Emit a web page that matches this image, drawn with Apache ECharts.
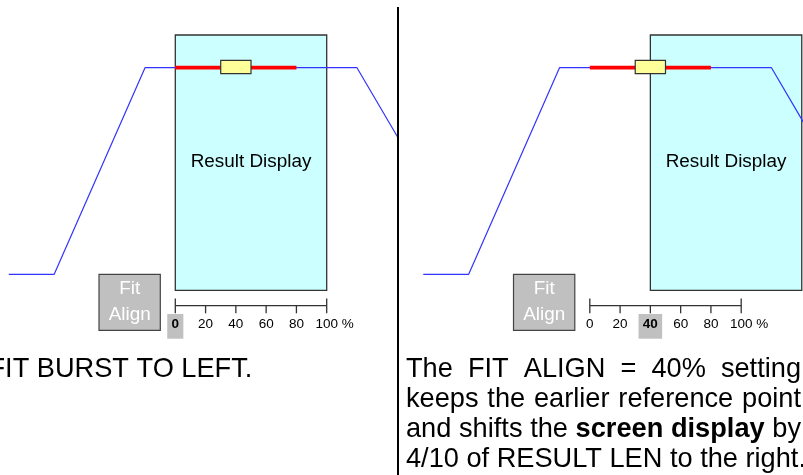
<!DOCTYPE html>
<html>
<head>
<meta charset="utf-8">
<script src="https://cdn.jsdelivr.net/npm/echarts@6/dist/echarts.min.js"></script>
<style>
html,body{margin:0;padding:0;background:#fff;overflow:hidden}
#c{width:803px;height:475px}
</style>
</head>
<body>
<div id="c"></div>
<script>
// ---------------- data ----------------
const fitAlign = [0, 40];                         // FIT ALIGN setting of each panel (%)
const resultLen = 100;                            // RESULT LEN (% of itself)
const burstX = [-110, -80, -20, 120, 200];        // burst envelope, % of RESULT LEN from reference point
const burstY = [0, 0, 1, 1, 0];                   // envelope level (0 = low, 1 = high)
const measuredSpan = [0, 80];                     // red measured section (%)
const refMarker = [30, 50];                       // yellow marker (%)
const scaleTicks = [0, 20, 40, 60, 80, 100];
const scaleTickLabels = ['0', '20', '40', '60', '80', '100'];
const scaleUnit = '%';
const displayLabel = 'Result Display';
const fitAlignLabel = ['Fit', 'Align'];
const leftCaption = 'FIT BURST TO LEFT.';
const rightCaption = [
  [['The', 0], ['FIT', 0], ['ALIGN', 0], ['=', 0], ['40%', 0], ['setting', 0]],
  [['keeps', 0], ['the', 0], ['earlier', 0], ['reference', 0], ['point', 0]],
  [['and', 0], ['shifts', 0], ['the', 0], ['screen', 1], ['display', 1], ['by', 0]],
  [['4/10', 0], ['of', 0], ['RESULT', 0], ['LEN', 0], ['to', 0], ['the', 0], ['right.', 0]]
];

// ---------------- layout ----------------
const FONT = "'Liberation Sans', Arial, Helvetica, sans-serif";
const W = 803, H = 475;
const PX_PER_PCT = 1.514;
const ORIGIN_PX = [175.3, 589.8];
const GRID_LEFT = [0, 414.5];
const GRID_W = [397, W - 414.5];
const Y_LOW = 274.3, Y_HIGH = 67.7;
const LEVEL_PX = Y_LOW - Y_HIGH;
const yMin = -(H - Y_LOW) / LEVEL_PX, yMax = Y_LOW / LEVEL_PX;

const mctx = document.createElement('canvas').getContext('2d');
function tw(t, font) { mctx.font = font; return mctx.measureText(t).width; }

const grid = [], xAxis = [], yAxis = [], series = [];
fitAlign.forEach((fa, i) => {
  const xMin = -(ORIGIN_PX[i] - GRID_LEFT[i]) / PX_PER_PCT;
  const xMax = xMin + GRID_W[i] / PX_PER_PCT;
  grid.push({left: GRID_LEFT[i], top: 0, width: GRID_W[i], height: H});
  xAxis.push({type: 'value', gridIndex: i, min: xMin, max: xMax, show: false});
  yAxis.push({type: 'value', gridIndex: i, min: yMin, max: yMax, show: false});

  // Result display window
  series.push({
    type: 'custom', xAxisIndex: i, yAxisIndex: i, z: 1, silent: true,
    data: [[fa, fa + resultLen]],
    renderItem: (p, api) => {
      const x0 = api.coord([api.value(0), 0])[0];
      const x1 = api.coord([api.value(1), 0])[0];
      return {type: 'group', children: [
        {type: 'rect', shape: {x: x0, y: 35, width: x1 - x0, height: 255.3},
         style: {fill: '#ccffff', stroke: '#333', lineWidth: 1.3}},
        {type: 'text', x: (x0 + x1) / 2, y: 161.8,
         style: {text: displayLabel, font: '18.9px ' + FONT, fill: '#000', align: 'center', verticalAlign: 'middle'}}
      ]};
    }
  });
  // burst envelope
  series.push({
    type: 'line', xAxisIndex: i, yAxisIndex: i, z: 2, silent: true, symbol: 'none',
    data: burstX.map((x, k) => [x, burstY[k]]),
    lineStyle: {color: '#3333ff', width: 1.2}
  });
  // measured section
  series.push({
    type: 'line', xAxisIndex: i, yAxisIndex: i, z: 3, silent: true, symbol: 'none',
    data: measuredSpan.map(x => [x, 1]),
    lineStyle: {color: '#ff0000', width: 3.8}
  });
  // yellow marker
  series.push({
    type: 'custom', xAxisIndex: i, yAxisIndex: i, z: 4, silent: true,
    data: [[refMarker[0], refMarker[1]]],
    renderItem: (p, api) => {
      const a = api.coord([api.value(0), 1]);
      const b = api.coord([api.value(1), 1]);
      return {type: 'rect', shape: {x: a[0], y: a[1] - 7.4, width: b[0] - a[0], height: 13.4},
              style: {fill: '#ffff99', stroke: '#333', lineWidth: 1.2}};
    }
  });
  // percentage scale
  series.push({
    type: 'custom', xAxisIndex: i, yAxisIndex: i, z: 5, silent: true,
    data: scaleTicks.map((t, k) => [t, k]),
    renderItem: (p, api) => {
      const t = api.value(0), k = api.value(1);
      const x = api.coord([t, 0])[0];
      const last = scaleTicks.length - 1;
      const isEnd = (k === 0 || k === last);
      const ch = [];
      if (k === 0) {
        const xe = api.coord([scaleTicks[last], 0])[0];
        ch.push({type: 'line', shape: {x1: x, y1: 305.7, x2: xe, y2: 305.7},
                 style: {stroke: '#333', lineWidth: 1.3}});
      }
      ch.push({type: 'line', shape: {x1: x, y1: isEnd ? 298.4 : 305.7, x2: x, y2: 313.3},
               style: {stroke: '#333', lineWidth: 1.3}});
      const hl = (t === fa);
      const font = (hl ? 'bold ' : '') + '13.5px ' + FONT;
      const lbl = scaleTickLabels[k];
      const w = tw(lbl, font);
      if (hl) {
        ch.push({type: 'rect', shape: {x: x - w / 2 - 4.3, y: 314, width: w + 8.6, height: 24.7},
                 style: {fill: '#c0c0c0'}});
      }
      ch.push({type: 'text', x: x - w / 2, y: 324.3,
               style: {text: k === last ? lbl + ' ' + scaleUnit : lbl, font: font, fill: '#000',
                       align: 'left', verticalAlign: 'middle'}});
      return {type: 'group', children: ch};
    }
  });
  // Fit Align button
  series.push({
    type: 'custom', xAxisIndex: i, yAxisIndex: i, z: 5, silent: true,
    data: [[scaleTicks[0]]],
    renderItem: (p, api) => {
      const xr = api.coord([api.value(0), 0])[0] - 15;
      const bw = 61.3;
      return {type: 'group', children: [
        {type: 'rect', shape: {x: xr - bw, y: 274.3, width: bw, height: 56},
         style: {fill: '#c0c0c0', stroke: '#444', lineWidth: 1.2}},
        {type: 'text', x: xr - bw / 2, y: 288.8,
         style: {text: fitAlignLabel[0], font: '18.9px ' + FONT, fill: '#fff', align: 'center', verticalAlign: 'middle'}},
        {type: 'text', x: xr - bw / 2, y: 315.2,
         style: {text: fitAlignLabel[1], font: '18.9px ' + FONT, fill: '#fff', align: 'center', verticalAlign: 'middle'}}
      ]};
    }
  });
});

// ---------------- captions ----------------
const CAP_SIZE = 27.2;
const capFont = b => (b ? 'bold ' : '') + CAP_SIZE + 'px ' + FONT;
const graphic = [];
graphic.push({type: 'line', shape: {x1: 398, y1: 7, x2: 398, y2: H}, style: {stroke: '#000', lineWidth: 2}, z: 10});
graphic.push({type: 'text', x: -11.5, y: 379 - 0.3465 * CAP_SIZE,
  style: {text: leftCaption, font: capFont(0), fill: '#000', align: 'left', verticalAlign: 'middle'}});

const capX0 = 406, capX1 = 801, capBase0 = 379, capLH = 30;
rightCaption.forEach((line, li) => {
  const widths = line.map(([w, b]) => tw(w, capFont(b)));
  const sum = widths.reduce((a, b) => a + b, 0);
  const justify = li < rightCaption.length - 1;
  const gap = justify ? (capX1 - capX0 - sum) / (line.length - 1) : tw(' ', capFont(0));
  let x = capX0;
  line.forEach(([w, b], k) => {
    graphic.push({type: 'text', x: x, y: capBase0 + li * capLH - 0.3465 * CAP_SIZE,
      style: {text: w, font: capFont(b), fill: '#000', align: 'left', verticalAlign: 'middle'}});
    x += widths[k] + gap;
  });
});

const chart = echarts.init(document.getElementById('c'), null, {renderer: 'canvas', width: W, height: H});
chart.setOption({
  animation: false,
  backgroundColor: '#fff',
  grid, xAxis, yAxis, series, graphic
});
</script>
</body>
</html>
